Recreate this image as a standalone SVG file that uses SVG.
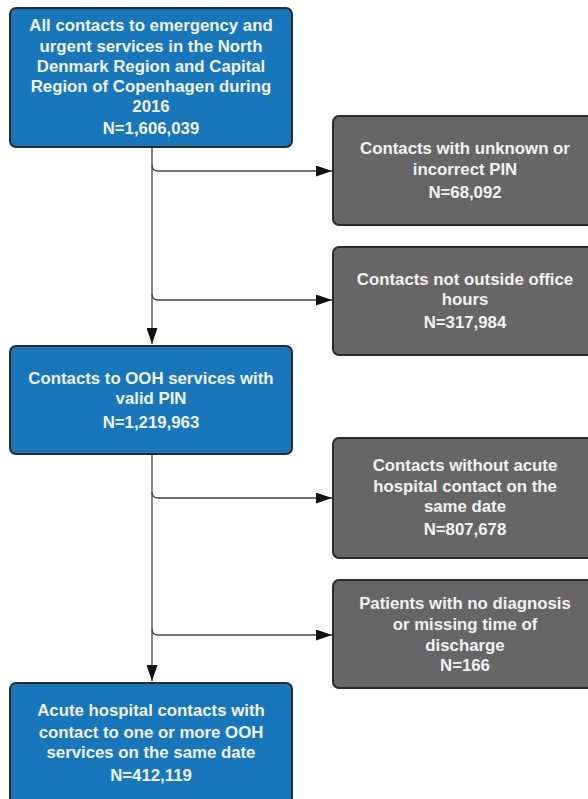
<svg xmlns="http://www.w3.org/2000/svg" width="588" height="799" viewBox="0 0 588 799">
<style>
.blue{fill:#1877bb;stroke:#2b2b2b;stroke-width:2}
.gray{fill:#666666;stroke:#2b2b2b;stroke-width:2}
text{font-family:"Liberation Sans",Arial,sans-serif;font-weight:bold;font-size:16.8px;fill:#f2f2f2;text-anchor:middle}
.conn{fill:none;stroke:#444;stroke-width:1.3}
</style>
<defs>
<marker id="arr" viewBox="0 0 16 11" refX="16" refY="5.5" markerWidth="16" markerHeight="11" markerUnits="userSpaceOnUse" orient="auto">
<path d="M0,0 L16,5.5 L0,11 z" fill="#111"/>
</marker>
</defs>
<rect width="588" height="799" fill="#ffffff"/>
<g id="connectors">
<path class="conn" d="M152,147 L152,344" marker-end="url(#arr)"/>
<path class="conn" d="M152,165 Q152,171 158,171 L332,171" marker-end="url(#arr)"/>
<path class="conn" d="M152,294 Q152,300 158,300 L332,300" marker-end="url(#arr)"/>
<path class="conn" d="M152,454 L152,681" marker-end="url(#arr)"/>
<path class="conn" d="M152,492 Q152,498 158,498 L332,498" marker-end="url(#arr)"/>
<path class="conn" d="M152,629 Q152,635 158,635 L332,635" marker-end="url(#arr)"/>
</g>
<g id="n1">
<rect class="blue" x="10" y="8" width="282" height="139" rx="6"/>
<text x="151" y="31">All contacts to emergency and</text>
<text x="151" y="52">urgent services in the North</text>
<text x="151" y="72">Denmark Region and Capital</text>
<text x="151" y="92">Region of Copenhagen during</text>
<text x="151" y="112">2016</text>
<text x="151" y="134">N=1,606,039</text>
</g>
<g id="e1">
<rect class="gray" x="333" y="116" width="264" height="109" rx="6"/>
<text x="465" y="154">Contacts with unknown or</text>
<text x="465" y="175">incorrect PIN</text>
<text x="465" y="198">N=68,092</text>
</g>
<g id="e2">
<rect class="gray" x="333" y="247" width="264" height="108" rx="6"/>
<text x="465" y="285">Contacts not outside office</text>
<text x="465" y="305">hours</text>
<text x="465" y="328">N=317,984</text>
</g>
<g id="n2">
<rect class="blue" x="10" y="346" width="282" height="108" rx="6"/>
<text x="151" y="384">Contacts to OOH services with</text>
<text x="151" y="404">valid PIN</text>
<text x="151" y="428">N=1,219,963</text>
</g>
<g id="e3">
<rect class="gray" x="333" y="438" width="264" height="120" rx="6"/>
<text x="465" y="471">Contacts without acute</text>
<text x="465" y="492">hospital contact on the</text>
<text x="465" y="512">same date</text>
<text x="465" y="535">N=807,678</text>
</g>
<g id="e4">
<rect class="gray" x="333" y="580" width="264" height="108" rx="6"/>
<text x="465" y="609">Patients with no diagnosis</text>
<text x="465" y="630">or missing time of</text>
<text x="465" y="651">discharge</text>
<text x="465" y="671">N=166</text>
</g>
<g id="n3">
<rect class="blue" x="10" y="683" width="282" height="130" rx="6"/>
<text x="151" y="716">Acute hospital contacts with</text>
<text x="151" y="738">contact to one or more OOH</text>
<text x="151" y="758">services on the same date</text>
<text x="151" y="781">N=412,119</text>
</g>
</svg>
